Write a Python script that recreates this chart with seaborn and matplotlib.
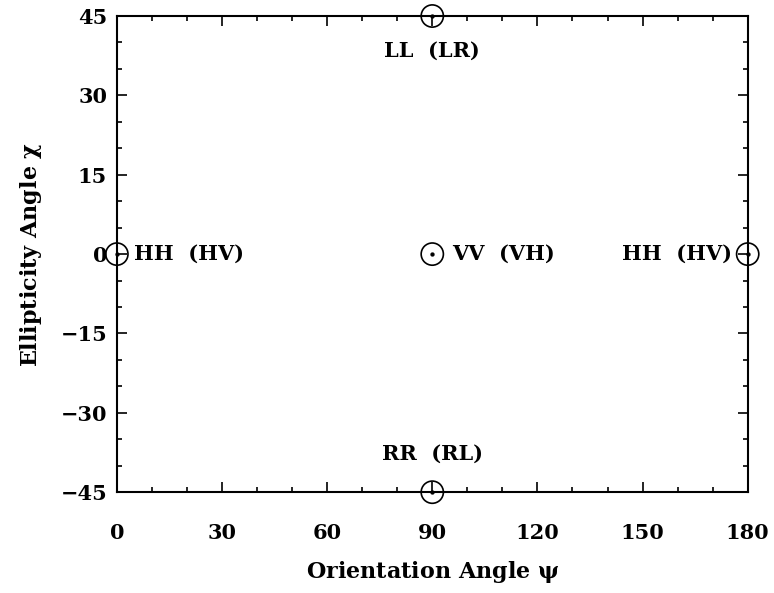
import matplotlib
matplotlib.use("Agg")
from matplotlib import pyplot as plt
from matplotlib.ticker import MultipleLocator
import seaborn as sns
import pandas as pd

# polarization states on the (psi, chi) plane
psi = [0, 90, 180, 90, 90]
chi = [0, 0, 0, 45, -45]
names = ["HH  (HV)", "VV  (VH)", "HH  (HV)", "LL  (LR)", "RR  (RL)"]

xticks = [0, 30, 60, 90, 120, 150, 180]
yticks = [-45, -30, -15, 0, 15, 30, 45]

sns.set_style("ticks")
plt.rcParams['font.family'] = ['DejaVu Serif']
plt.rcParams['font.weight'] = 'bold'
plt.rcParams['mathtext.fontset'] = 'dejavuserif'
plt.rcParams['mathtext.default'] = 'bf'
plt.rcParams['text.color'] = 'black'
plt.rcParams['axes.labelcolor'] = 'black'
plt.rcParams['xtick.color'] = 'black'
plt.rcParams['ytick.color'] = 'black'

df = pd.DataFrame({'psi': psi, 'chi': chi, 'name': names})

fig, ax = plt.subplots(figsize=(7.74, 5.93), dpi=100)
fig.subplots_adjust(left=0.151, right=0.966, top=0.973, bottom=0.170)

sns.scatterplot(data=df, x='psi', y='chi', ax=ax, marker='o', s=256,
                facecolor='none', edgecolor='black', linewidth=1.2,
                clip_on=False, zorder=5)
sns.scatterplot(data=df, x='psi', y='chi', ax=ax, marker='o', s=8,
                color='black', edgecolor='black', clip_on=False, zorder=6)

# label placement (offset in points, alignment)
offsets = [((12, 0), 'left', 'center'),
           ((14, 0), 'left', 'center'),
           ((-11, 0), 'right', 'center'),
           ((0, -25), 'center', 'center'),
           ((0, 28), 'center', 'center')]
for (x, y, t), (off, ha, va) in zip(zip(psi, chi, names), offsets):
    ax.annotate(t, (x, y), xytext=off, textcoords='offset points',
                ha=ha, va=va, fontsize=15, fontweight='bold')

ax.set_xlim(0, 180)
ax.set_ylim(-45, 45)
ax.set_xticks(xticks)
ax.set_yticks(yticks)
ax.set_xticklabels([str(v) for v in xticks], fontweight='bold')
ax.set_yticklabels([str(v).replace('-', '\u2212') for v in yticks],
                   fontweight='bold')
ax.xaxis.set_minor_locator(MultipleLocator(10))
ax.yaxis.set_minor_locator(MultipleLocator(5))
ax.tick_params(which='both', direction='in', top=True, right=True,
               color='black', width=1.2)
ax.tick_params(which='major', length=7.5, labelsize=15)
ax.tick_params(axis='x', which='major', pad=22)
ax.tick_params(axis='y', which='major', pad=7)
ax.tick_params(which='minor', length=3.8)
for sp in ax.spines.values():
    sp.set_linewidth(1.5)
    sp.set_color('black')

ax.set_xlabel(r'Orientation Angle $\psi$', fontsize=16, labelpad=12,
              fontweight='bold')
ax.set_ylabel(r'Ellipticity Angle $\chi$', fontsize=16, labelpad=12,
              fontweight='bold')
ax.grid(False)

fig.savefig('out.png', dpi=100)
